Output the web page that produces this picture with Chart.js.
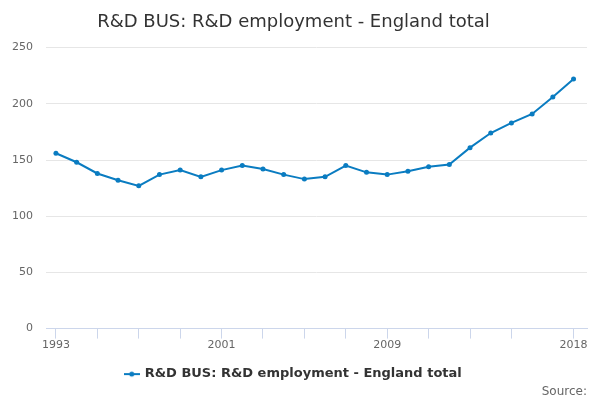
<!DOCTYPE html>
<html>
<head>
<meta charset="utf-8">
<script src="https://cdn.jsdelivr.net/npm/chart.js@4/dist/chart.umd.min.js"></script>
<style>
  body { margin: 0; background: #fff; }
  #wrap { width: 600px; height: 400px; }
</style>
</head>
<body>
<div id="wrap"><canvas id="myChart"></canvas></div>
<script>
var years = [1993, 1994, 1995, 1996, 1997, 1998, 1999, 2000, 2001, 2002, 2003, 2004, 2005,
             2006, 2007, 2008, 2009, 2010, 2011, 2012, 2013, 2014, 2015, 2016, 2017, 2018];
var employment = [156, 148, 138, 132, 127, 137, 141, 135, 141, 145, 142, 137, 133,
                  135, 145, 139, 137, 140, 144, 146, 161, 174, 183, 191, 206, 222];
var tickYears = [1993, 1995, 1997, 1999, 2001, 2003, 2005, 2007, 2009, 2011, 2013, 2015, 2018];
var labelYears = [1993, 2001, 2009, 2018];
var yTicks = [0, 50, 100, 150, 200, 250];

var seriesName = 'R&D BUS: R&D employment - England total';
var lineColour = '#0a7cc1';

// legend symbol: short line with a dot, like the original
var sym = document.createElement('canvas');
sym.width = 16; sym.height = 8;
var sctx = sym.getContext('2d');
sctx.strokeStyle = lineColour;
sctx.lineWidth = 2;
sctx.beginPath(); sctx.moveTo(0, 4); sctx.lineTo(16, 4); sctx.stroke();
sctx.fillStyle = lineColour;
sctx.beginPath(); sctx.arc(8, 4, 2.5, 0, Math.PI * 2); sctx.fill();

Chart.defaults.font.family = '"DejaVu Sans", sans-serif';

var ctx = document.getElementById('myChart').getContext('2d');
var myChart = new Chart(ctx, {
    type: 'line',
    data: {
        datasets: [{
            label: seriesName,
            data: years.map(function (y, i) { return { x: y, y: employment[i] }; }),
            borderColor: lineColour,
            backgroundColor: lineColour,
            borderWidth: 2,
            pointRadius: 2.5,
            pointBorderWidth: 0,
            pointStyle: 'circle',
            tension: 0
        }]
    },
    options: {
        responsive: true,
        maintainAspectRatio: false,
        animation: false,
        layout: { padding: { left: 0, right: 13, top: 0, bottom: 0 } },
        plugins: {
            title: {
                display: true,
                text: seriesName,
                color: '#333333',
                font: { size: 18, weight: 'normal' },
                padding: { top: 12, bottom: 14 }
            },
            subtitle: {
                display: true,
                text: 'Source:',
                position: 'bottom',
                align: 'end',
                color: '#666666',
                font: { size: 12, weight: 'normal' },
                padding: { top: -6, bottom: 1 }
            },
            legend: {
                position: 'bottom',
                labels: {
                    usePointStyle: true,
                    pointStyle: sym,
                    color: '#333333',
                    font: { size: 13, weight: 'bold' },
                    padding: 4
                }
            },
            tooltip: { enabled: false }
        },
        scales: {
            x: {
                type: 'linear',
                min: 1992.52,
                max: 2018.65,
                afterBuildTicks: function (scale) {
                    scale.ticks = tickYears.map(function (v) { return { value: v }; });
                },
                afterFit: function (scale) { scale.height = 35; },
                ticks: {
                    autoSkip: false,
                    maxRotation: 0,
                    color: '#666666',
                    font: { size: 11 },
                    padding: 0,
                    callback: function (v) {
                        return labelYears.indexOf(v) >= 0 ? String(v) : '';
                    }
                },
                grid: {
                    drawOnChartArea: false,
                    drawTicks: true,
                    tickLength: 10,
                    color: '#ccd6eb'
                },
                border: { color: '#ccd6eb', width: 1 }
            },
            y: {
                min: 0,
                max: 250,
                afterBuildTicks: function (scale) {
                    scale.ticks = yTicks.map(function (v) { return { value: v }; });
                },
                afterFit: function (scale) { scale.width = 46; },
                ticks: {
                    color: '#666666',
                    font: { size: 11 },
                    padding: 13
                },
                grid: {
                    color: '#e6e6e6',
                    drawTicks: false
                },
                border: { display: false }
            }
        }
    }
});
</script>
</body>
</html>
